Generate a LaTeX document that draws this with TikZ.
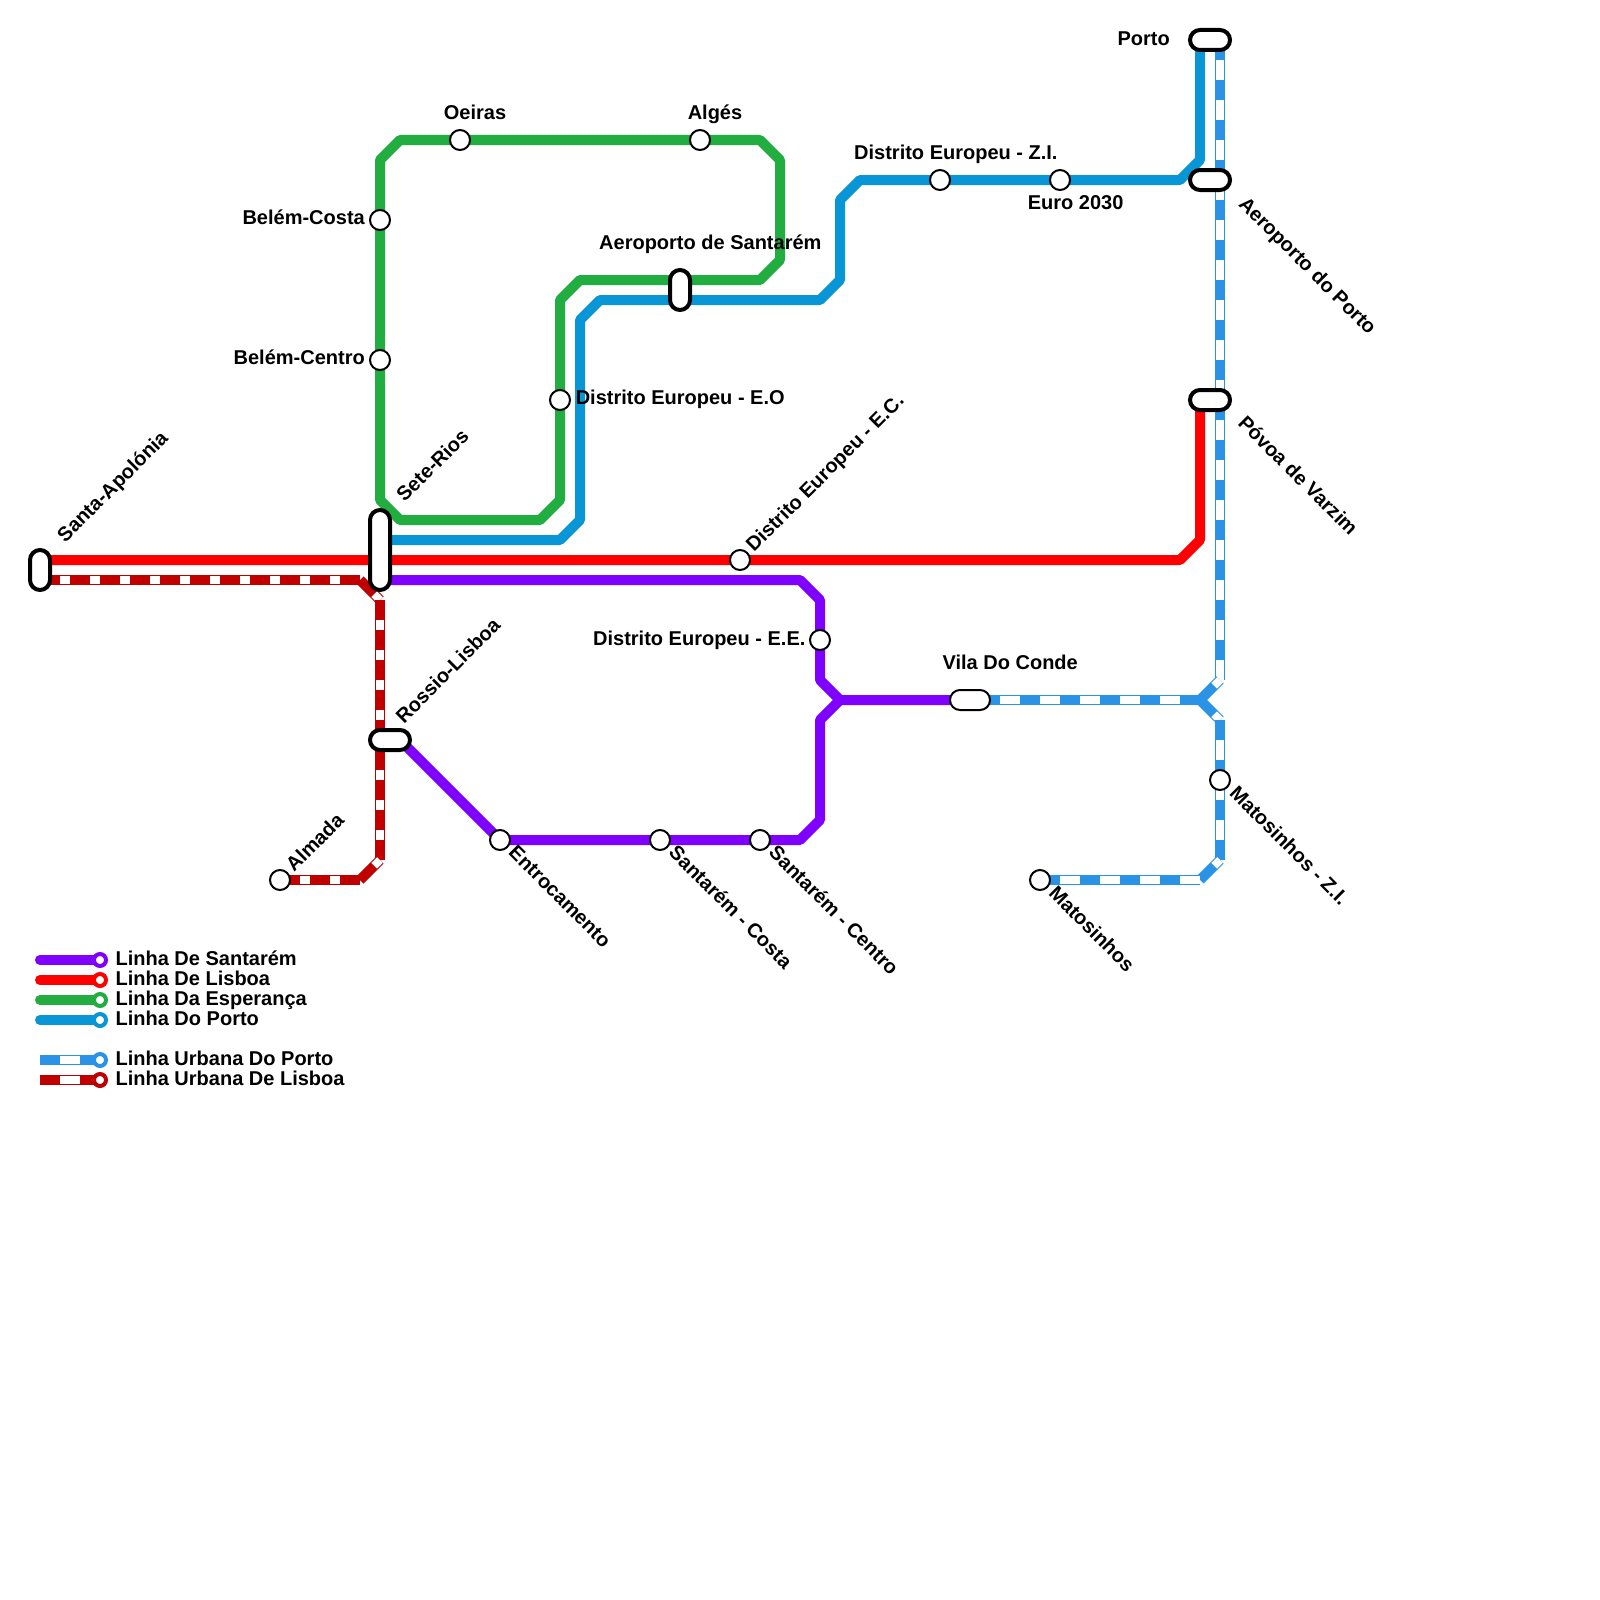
\documentclass[tikz,border=0pt]{standalone}
\usepackage{fontspec}
\setmainfont{Liberation Sans}
\usetikzlibrary{backgrounds}
\definecolor{santaremcol}{HTML}{8000FF}
\definecolor{lisboacol}{HTML}{FF0000}
\definecolor{esperancacol}{HTML}{21AD3F}
\definecolor{portocol}{HTML}{0896D7}
\definecolor{urbportocol}{HTML}{2A93E6}
\definecolor{urblisboacol}{HTML}{C00000}
\tikzset{
  track/.style={line width=10pt,line join=bevel},
  urbline/.style={line width=10pt},
  urbporto/.style={white,line width=8pt,dash pattern=on 20pt off 20pt,dash phase=20pt},
  urblisboa/.style={white,line width=8pt,dash pattern=on 10pt off 20pt,dash phase=10pt},
  stn/.style={circle,draw=black,fill=white,line width=2pt,minimum size=20pt,inner sep=0pt},
  pill/.style={rectangle,rounded corners=9.99pt,draw=black,fill=white,line width=4pt,inner sep=0pt},
  pillh/.style={pill,minimum width=40pt,minimum height=20pt},
  pillthin/.style={pillh,line width=2pt},
  lbl/.style={font=\fontsize{20}{24}\selectfont\bfseries,inner sep=0pt},
  lblup/.style={lbl,anchor=base west,rotate=45},
  lbldown/.style={lbl,anchor=base west,rotate=-45},
  endring/.style={circle,fill=white,line width=4pt,minimum size=12pt,inner sep=0pt}
}
\begin{document}
\begin{tikzpicture}[x=20pt,y=-20pt]
\useasboundingbox (0,0) rectangle (80,80);

\node[stn] (belemcosta) at (19,11) {};
\node[stn] (belemcentro) at (19,18) {};
\node[stn] (oeiras) at (23,7) {};
\node[stn] (alges) at (35,7) {};
\node[stn] (dezi) at (47,9) {};
\node[stn] (euro) at (53,9) {};
\node[stn] (deeo) at (28,20) {};
\node[stn] (deec) at (37,28) {};
\node[stn] (deee) at (41,32) {};
\node[stn] (entroncamento) at (25,42) {};
\node[stn] (scosta) at (33,42) {};
\node[stn] (scentro) at (38,42) {};
\node[stn] (almada) at (14,44) {};
\node[stn] (matosinhos) at (52,44) {};
\node[stn] (matzi) at (61,39) {};

\node[pill,minimum width=20pt,minimum height=40pt] (apolonia) at (2,28.5) {};
\node[pill,minimum width=20pt,minimum height=80pt] (seterios) at (19,27.5) {};
\node[pill,minimum width=20pt,minimum height=40pt] (aeroporto) at (34,14.5) {};
\node[pillh] (rossio) at (19.5,37) {};
\node[pillh] (porto) at (60.5,2) {};
\node[pillh] (aeroportop) at (60.5,9) {};
\node[pillh] (povoa) at (60.5,20) {};
\node[pillthin] (vila) at (48.5,35) {};

\coordinate (apoA) at (2,28);
\coordinate (apoB) at (2,29);
\coordinate (seteB) at (19,29);
\coordinate (seteC) at (19,27);
\coordinate (rossioA) at (20,37);
\coordinate (portoA) at (60,2);
\coordinate (portoB) at (61,2);
\coordinate (povoaA) at (60,20);
\coordinate (vilaA) at (48,35);
\coordinate (vilaB) at (49,35);
\coordinate (urbL1) at (18,29);
\coordinate (urbL2) at (19,30);
\coordinate (urbL3) at (19,43);
\coordinate (urbL4) at (18,44);
\coordinate (urbP1) at (61,34);
\coordinate (urbP2) at (60,35);
\coordinate (urbP3) at (61,36);
\coordinate (urbP4) at (61,43);
\coordinate (urbP5) at (60,44);

\begin{pgfonlayer}{background}
\draw[track,esperancacol] (19,25) -- (20,26) -- (27,26) -- (28,25) -- (28,15) -- (29,14) -- (38,14) -- (39,13) -- (39,8) -- (38,7) -- (20,7) -- (19,8) -- cycle;
\draw[track,portocol] (portoA) -- (60,8) -- (59,9) -- (43,9) -- (42,10) -- (42,14) -- (41,15) -- (30,15) -- (29,16) -- (29,26) -- (28,27) -- (seteC);
\draw[track,lisboacol] (apoA) -- (59,28) -- (60,27) -- (povoaA);
\draw[track,santaremcol] (seteB) -- (40,29) -- (41,30) -- (41,34) -- (42,35) -- (vilaA);
\draw[track,santaremcol] (42,35) -- (41,36) -- (41,41) -- (40,42) -- (entroncamento.center) -- (rossioA);

\foreach \a/\b in {apoB/urbL1,urbL1/urbL2,urbL3/urbL2,urbL4/urbL3,almada/urbL4}{
  \draw[urbline,urblisboacol] (\a.center) -- (\b.center);
  \draw[urblisboa] (\a.center) -- (\b.center);
}
\foreach \a/\b in {portoB/urbP1,urbP2/urbP1,vilaB/urbP2,urbP2/urbP3,urbP3/urbP4,urbP5/urbP4,matosinhos/urbP5}{
  \draw[urbline,urbportocol] (\a.center) -- (\b.center);
  \draw[urbporto] (\a.center) -- (\b.center);
}
\end{pgfonlayer}

\node[lbl,anchor=base east] (tbelemcosta) at (18.25,11.22) {Belém-Costa};
\node[lbl,anchor=base east] (tbelemcentro) at (18.25,18.2) {Belém-Centro};
\node[lbl,anchor=base] (toeiras) at (23.75,5.97) {Oeiras};
\node[lbl,anchor=base] (talges) at (35.75,5.97) {Algés};
\node[lbl,anchor=base west] (tdezi) at (42.7,7.96) {Distrito Europeu - Z.I.};
\node[lbl,anchor=base west] (teuro) at (51.38,10.48) {Euro 2030};
\node[lbl,anchor=base west] (taeroporto) at (29.95,12.47) {Aeroporto de Santarém};
\node[lbl,anchor=base west] (tdeeo) at (28.78,20.22) {Distrito Europeu - E.O};
\node[lbl,anchor=base east] (tdeee) at (40.28,32.25) {Distrito Europeu - E.E.};
\node[lbl,anchor=base west] (tvila) at (47.12,33.47) {Vila Do Conde};
\node[lbl,anchor=base east] (tporto) at (58.5,2.27) {Porto};

\node[lblup] (tapolonia) at (3.26,27.17) {Santa-Apolónia};
\node[lblup] (tseterios) at (20.23,25.15) {Sete-Rios};
\node[lblup] (tdeec) at (37.7,27.65) {Distrito Europeu - E.C.};
\node[lblup] (trossio) at (20.2,36.22) {Rossio-Lisboa};
\node[lblup] (talmada) at (14.7,43.65) {Almada};

\node[lbldown] (tentroncamento) at (25.38,42.68) {Entrocamento};
\node[lbldown] (tscosta) at (33.38,42.68) {Santarém - Costa};
\node[lbldown] (tscentro) at (38.38,42.68) {Santarém - Centro};
\node[lbldown] (tmatosinhos) at (52.38,44.72) {Matosinhos};
\node[lbldown] (tmatzi) at (61.42,39.72) {Matosinhos - Z.I.};
\node[lbldown] (taeroportop) at (61.88,10.25) {Aeroporto do Porto};
\node[lbldown] (tpovoa) at (61.85,21.2) {Póvoa de Varzim};

\foreach \y/\col/\name/\txt in {48/santaremcol/a/Linha De Santarém,49/lisboacol/b/Linha De Lisboa,50/esperancacol/c/Linha Da Esperança,51/portocol/d/Linha Do Porto}{
  \node[endring,draw=\col] (leg\name) at (5,\y) {};
  \coordinate (start\name) at (2,\y);
  \begin{pgfonlayer}{background}
  \draw[track,\col,line cap=round] (start\name) -- (leg\name.center);
  \end{pgfonlayer}
  \node[lbl,anchor=base west] (txt\name) at (5.77,\y+0.27) {\txt};
}
\foreach \y/\col/\name/\txt in {53/urbportocol/e/Linha Urbana Do Porto,54/urblisboacol/f/Linha Urbana De Lisboa}{
  \node[endring,draw=\col] (leg\name) at (5,\y) {};
  \coordinate (start\name) at (2,\y);
  \begin{pgfonlayer}{background}
  \draw[urbline,\col] (start\name) -- (leg\name.center);
  \draw[urbporto] (start\name) -- (leg\name.center);
  \end{pgfonlayer}
  \node[lbl,anchor=base west] (txt\name) at (5.77,\y+0.27) {\txt};
}
\end{tikzpicture}
\end{document}
